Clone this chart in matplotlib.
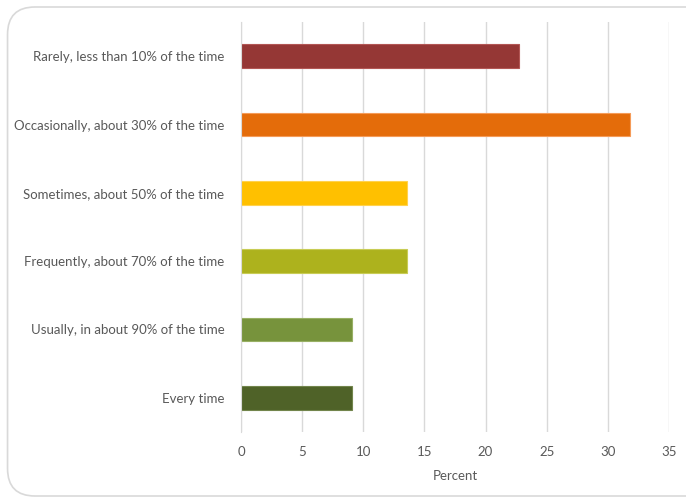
import matplotlib.pyplot as plt
from matplotlib.patches import FancyBboxPatch

categories = ["Rarely, less than 10% of the time",
              "Occasionally, about 30% of the time",
              "Sometimes, about 50% of the time",
              "Frequently, about 70% of the time",
              "Usually, in about 90% of the time",
              "Every time"]
percent = [22.7, 31.8, 13.6, 13.6, 9.1, 9.1]
colors = ["#953735", "#E46C0A", "#FFC000", "#ADB21D", "#77933C", "#4F6228"]
edges = ["#B25654", "#F59B58", "#FFD24D", "#C8CC55", "#98B064", "#72854C"]

plt.rcParams.update({"font.family": ["Lato", "DejaVu Sans"], "font.size": 9.5})

fig = plt.figure(figsize=(6.86, 5), dpi=100)
frame = FancyBboxPatch((0.011, 0.008), 1.1, 0.978, boxstyle="round,pad=0,rounding_size=0.04",
                       transform=fig.transFigure, facecolor="white", edgecolor="#D9D9D9",
                       linewidth=1.2, mutation_aspect=686 / 500, zorder=-10)
fig.patches.append(frame)

ax = fig.add_axes([0.3513, 0.136, 0.6239, 0.82])
ax.set_facecolor("none")
y = list(range(len(categories)))
ax.barh(y, percent, height=0.35, color=colors, edgecolor=edges, linewidth=0.8, zorder=3)
ax.set_ylim(len(categories) - 0.5, -0.5)
ax.set_xlim(0, 35)
ax.set_xticks(range(0, 36, 5))
ax.set_yticks(y, categories)
ax.grid(axis="x", color="#D9D9D9", linewidth=1, zorder=0)
for s in ["top", "right", "bottom"]:
    ax.spines[s].set_visible(False)
ax.spines["left"].set_color("#D9D9D9")
ax.spines["left"].set_zorder(4)
ax.tick_params(length=0, colors="#595959")
ax.tick_params(axis="y", pad=12)
ax.tick_params(axis="x", pad=10)
ax.set_xlabel("Percent", color="#595959", labelpad=9)

fig.savefig("out.png", dpi=100)
